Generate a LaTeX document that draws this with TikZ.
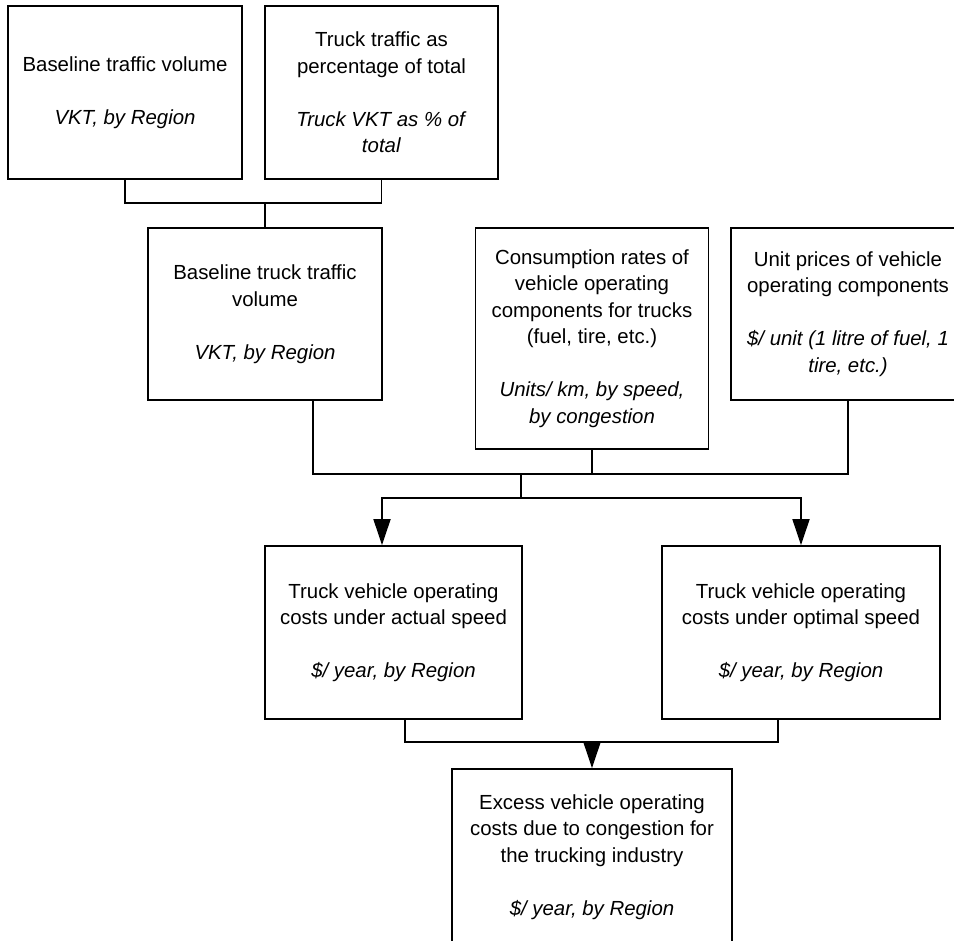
\documentclass[tikz,border=0pt]{standalone}
\usepackage{fontspec}
\setmainfont{Liberation Sans}
\usetikzlibrary{arrows.meta}
\newcommand\blankline{\\[26.5pt]}
\begin{document}
\begin{tikzpicture}[x=1pt,y=-1pt,
  box/.style={draw, line width=1.8pt, align=center, inner sep=0pt,
    font=\fontsize{20.4}{26.5}\selectfont},
  link/.style={line width=1.8pt},
  feed/.style={link, -{Triangle[length=26pt,width=17pt]}}]
\clip (0,0) rectangle (954,941);

% input boxes
\node[box, minimum width=234pt, minimum height=173pt] (A) at (125,92.5)
  {Baseline traffic volume\blankline\textit{VKT, by Region}};
\node[box, minimum width=233pt, minimum height=173pt] (B) at (381.5,92.5)
  {Truck traffic as\\percentage of total\blankline\textit{Truck VKT as \% of}\\\textit{total}};
\node[box, minimum width=234pt, minimum height=172pt] (C) at (265,314)
  {Baseline truck traffic\\volume\blankline\textit{VKT, by Region}};
\node[box, minimum width=233pt, minimum height=221pt] (D) at (592,338.5)
  {Consumption rates of\\vehicle operating\\components for trucks\\(fuel, tire, etc.)\blankline\textit{Units/ km, by speed,}\\\textit{by congestion}};
\node[box, minimum width=234pt, minimum height=172pt] (E) at (848,314)
  {Unit prices of vehicle\\operating components\blankline\textit{\$/ unit (1 litre of fuel, 1}\\\textit{tire, etc.)}};

% cost boxes
\node[box, minimum width=257pt, minimum height=173pt] (F) at (393.5,632.5)
  {Truck vehicle operating\\costs under actual speed\blankline\textit{\$/ year, by Region}};
\node[box, minimum width=278pt, minimum height=173pt] (G) at (801,632.5)
  {Truck vehicle operating\\costs under optimal speed\blankline\textit{\$/ year, by Region}};
\node[box, minimum width=280pt, minimum height=176pt] (H) at (592,857)
  {Excess vehicle operating\\costs due to congestion for\\the trucking industry\blankline\textit{\$/ year, by Region}};

% junction points of the connector buses
\coordinate (j1) at (265,203);
\coordinate (j2) at (521,474);
\coordinate (j3) at (521,498);
\coordinate (j4) at (592,742);

\draw[link] (A.south) |- (j1) -| (B.south);
\draw[link] (j1) -- (C.north);
\draw[link] ([xshift=-70pt]C.south east) |- (j2) -| (E.south);
\draw[link] (D.south) -- (D.south |- j2);
\draw[link] (j2) -- (j3);
\draw[feed] (j3) -| ([xshift=-11.5pt]F.north);
\draw[feed] (j3) -| (G.north);
\draw[link] ([xshift=11.5pt]F.south) |- (j4) -| ([xshift=-23pt]G.south);
\draw[feed] (j4) -- (H.north);
\end{tikzpicture}
\end{document}
